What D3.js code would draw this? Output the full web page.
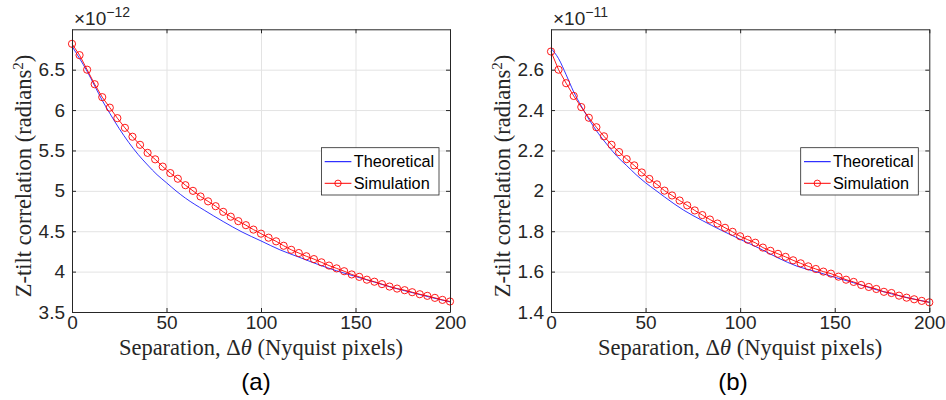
<!DOCTYPE html>
<html>
<head>
<meta charset="utf-8">
<script src="https://cdn.jsdelivr.net/npm/d3@7"></script>
<style>
  body { margin: 0; background: #fff; }
  svg { display: block; }
  .tick text { font-family: "Liberation Sans", Arial, sans-serif; font-size: 19px; fill: #262626; }
</style>
</head>
<body>
<div id="chart"></div>
<script>
// x ticks shared by both panels
const xTicks = [0, 50, 100, 150, 200];
const yTicksA = [3.5, 4, 4.5, 5, 5.5, 6, 6.5];
const yTicksB = [1.4, 1.6, 1.8, 2, 2.2, 2.4, 2.6];

// simulation sample positions (Nyquist pixels)
const simX = [0, 4, 8, 12, 16, 20, 24, 28, 32, 36, 40, 44, 48, 52, 56, 60, 64, 68, 72, 76,
  80, 84, 88, 92, 96, 100, 104, 108, 112, 116, 120, 124, 128, 132, 136, 140, 144, 148, 152,
  156, 160, 164, 168, 172, 176, 180, 184, 188, 192, 196, 200];

// panel (a), x1e-12
const simA = [6.82, 6.68, 6.50, 6.32, 6.16, 6.03, 5.90, 5.78, 5.67, 5.57, 5.47, 5.39, 5.30,
  5.22, 5.15, 5.07, 5.00, 4.93, 4.87, 4.81, 4.74, 4.68, 4.625, 4.575, 4.52, 4.47, 4.42,
  4.375, 4.32, 4.27, 4.23, 4.19, 4.155, 4.115, 4.075, 4.04, 4.005, 3.965, 3.935, 3.90,
  3.875, 3.845, 3.815, 3.79, 3.77, 3.745, 3.72, 3.70, 3.675, 3.65, 3.63];

// panel (b), x1e-11
const simB = [2.69, 2.60, 2.533, 2.47, 2.415, 2.362, 2.315, 2.27, 2.228, 2.192, 2.157,
  2.126, 2.091, 2.059, 2.032, 2.001, 1.977, 1.952, 1.928, 1.903, 1.88, 1.858, 1.838,
  1.817, 1.797, 1.775, 1.758, 1.743, 1.719, 1.703, 1.688, 1.673, 1.656, 1.641, 1.626,
  1.613, 1.60, 1.59, 1.575, 1.56, 1.549, 1.534, 1.524, 1.514, 1.50, 1.494, 1.481, 1.471,
  1.463, 1.455, 1.448];

const theoX = [0, 4, 8, 12, 16, 20, 25, 30, 35, 40, 45, 50, 55, 60, 70, 80, 90, 100, 110,
  120, 130, 140, 150, 160, 170, 180, 190, 200];
const theoA = [6.79, 6.64, 6.48, 6.30, 6.12, 5.96, 5.77, 5.60, 5.45, 5.32, 5.20, 5.10, 5.00,
  4.91, 4.76, 4.62, 4.49, 4.38, 4.27, 4.18, 4.09, 4.01, 3.94, 3.87, 3.80, 3.74, 3.68, 3.625];
const theoB = [2.705, 2.655, 2.575, 2.49, 2.42, 2.355, 2.285, 2.225, 2.17, 2.125, 2.08,
  2.04, 2.005, 1.97, 1.905, 1.853, 1.805, 1.76, 1.716, 1.668, 1.627, 1.600, 1.572, 1.545,
  1.516, 1.490, 1.468, 1.448];

const seriesNames = ['Theoretical', 'Simulation'];

const W = 946, H = 400;
const Top = 29.3, Bottom = 312;
const AxisColor = '#262626';

const svg = d3.select('#chart').append('svg')
  .attr('width', W)
  .attr('height', H);

svg.append('rect').attr('width', W).attr('height', H).attr('fill', '#fff');

function drawPanel(opts) {
  const x = d3.scaleLinear().domain([0, 200]).range([opts.left, opts.right]);
  const y = d3.scaleLinear().domain(opts.yDomain).range([Bottom, Top]);
  const g = svg.append('g');

  // grid
  g.append('g')
    .attr('transform', `translate(0, ${Bottom})`)
    .call(d3.axisBottom(x).tickValues(xTicks.slice(1, -1)).tickSize(-(Bottom - Top)).tickFormat(''))
    .call(s => s.select('.domain').remove())
    .selectAll('line').attr('stroke', '#e3e3e3');
  g.append('g')
    .attr('transform', `translate(${opts.left}, 0)`)
    .call(d3.axisLeft(y).tickValues(opts.yTicks.slice(1)).tickSize(-(opts.right - opts.left)).tickFormat(''))
    .call(s => s.select('.domain').remove())
    .selectAll('line').attr('stroke', '#e3e3e3');

  // theoretical curve
  const line = d3.line().x(d => x(d[0])).y(d => y(d[1]));
  g.append('path')
    .datum(d3.zip(theoX, opts.theo))
    .attr('d', line.curve(d3.curveMonotoneX))
    .attr('fill', 'none')
    .attr('stroke', '#0000ff')
    .attr('stroke-width', 0.8);

  // simulation
  const simPts = d3.zip(simX, opts.sim);
  g.append('path')
    .datum(simPts)
    .attr('d', d3.line().x(d => x(d[0])).y(d => y(d[1])))
    .attr('fill', 'none')
    .attr('stroke', '#ff0000')
    .attr('stroke-width', 0.9);
  g.selectAll('circle.sim')
    .data(simPts)
    .enter().append('circle')
    .attr('class', 'sim')
    .attr('cx', d => x(d[0]))
    .attr('cy', d => y(d[1]))
    .attr('r', 3.6)
    .attr('fill', 'none')
    .attr('stroke', '#ff0000')
    .attr('stroke-width', 0.9);

  // axes (box with inward ticks)
  const styleAxis = s => {
    s.select('.domain').attr('stroke', AxisColor);
    s.selectAll('.tick line').attr('stroke', AxisColor);
  };
  g.append('g')
    .attr('transform', `translate(0, ${Bottom})`)
    .call(d3.axisBottom(x).tickValues(xTicks).tickSizeInner(-4).tickSizeOuter(0).tickPadding(4))
    .call(styleAxis);
  g.append('g')
    .attr('transform', `translate(0, ${Top})`)
    .call(d3.axisTop(x).tickValues(xTicks).tickSizeInner(-4).tickSizeOuter(0).tickFormat(''))
    .call(styleAxis);
  g.append('g')
    .attr('transform', `translate(${opts.left}, 0)`)
    .call(d3.axisLeft(y).tickValues(opts.yTicks).tickSizeInner(-4).tickSizeOuter(0).tickPadding(7)
      .tickFormat(d3.format('~g')))
    .call(styleAxis);
  g.append('g')
    .attr('transform', `translate(${opts.right}, 0)`)
    .call(d3.axisRight(y).tickValues(opts.yTicks).tickSizeInner(-4).tickSizeOuter(0).tickFormat(''))
    .call(styleAxis);
  g.selectAll('.tick text').attr('font-family', null).attr('font-size', null);

  // exponent
  const ex = g.append('text')
    .attr('x', opts.left + 2)
    .attr('y', 25)
    .attr('font-family', '"Liberation Sans", Arial, sans-serif')
    .attr('font-size', 19)
    .attr('fill', AxisColor);
  ex.append('tspan').text('\u00d710');
  ex.append('tspan').attr('dy', -8).attr('font-size', 14).text(opts.exponent);

  // x label
  const cx = (opts.left + opts.right) / 2;
  const xl = g.append('text')
    .attr('x', cx)
    .attr('y', 355)
    .attr('text-anchor', 'middle')
    .attr('font-family', '"Liberation Serif", "Times New Roman", serif')
    .attr('font-size', 22.5)
    .attr('fill', AxisColor);
  xl.append('tspan').text('Separation, \u0394');
  xl.append('tspan').attr('font-style', 'italic').text('\u03b8');
  xl.append('tspan').text(' (Nyquist pixels)');

  // y label
  const yl = g.append('text')
    .attr('transform', `translate(${opts.left - 41}, 176) rotate(-90)`)
    .attr('text-anchor', 'middle')
    .attr('font-family', '"Liberation Serif", "Times New Roman", serif')
    .attr('font-size', 22.5)
    .attr('fill', AxisColor);
  yl.append('tspan').text('Z-tilt correlation (radians');
  yl.append('tspan').attr('dy', -8).attr('font-size', 15).text('2');
  yl.append('tspan').attr('dy', 8).text(')');

  // legend
  const lx = opts.right - 128.6, ly = 147.7;
  const leg = g.append('g').attr('transform', `translate(${lx}, ${ly})`);
  leg.append('rect')
    .attr('width', 117.6).attr('height', 47.3)
    .attr('fill', '#fff').attr('stroke', AxisColor).attr('stroke-width', 0.8);
  const rows = leg.selectAll('g.row').data(seriesNames).enter().append('g')
    .attr('class', 'row')
    .attr('transform', (d, i) => `translate(0, ${14 + i * 21.6})`);
  rows.append('line')
    .attr('x1', 3.3).attr('x2', 30)
    .attr('stroke', (d, i) => i === 0 ? '#0000ff' : '#ff0000')
    .attr('stroke-width', 1);
  rows.filter((d, i) => i === 1).append('circle')
    .attr('cx', 16.6).attr('r', 3.2)
    .attr('fill', 'none').attr('stroke', '#ff0000').attr('stroke-width', 0.9);
  rows.append('text')
    .attr('x', 32.3)
    .attr('dy', '0.35em')
    .attr('font-family', '"Liberation Sans", Arial, sans-serif')
    .attr('font-size', 16.3)
    .attr('fill', '#000')
    .text(d => d);

  // caption
  svg.append('text')
    .attr('x', opts.capX)
    .attr('y', 390)
    .attr('text-anchor', 'middle')
    .attr('font-family', '"Liberation Sans", Arial, sans-serif')
    .attr('font-size', 24)
    .attr('fill', '#000')
    .text(opts.caption);
}

drawPanel({ left: 72, right: 450, yDomain: [3.5, 7.0], yTicks: yTicksA,
  sim: simA, theo: theoA, exponent: '\u221212', caption: '(a)', capX: 256 });
drawPanel({ left: 551, right: 929.3, yDomain: [1.4, 2.8], yTicks: yTicksB,
  sim: simB, theo: theoB, exponent: '\u221211', caption: '(b)', capX: 733 });
</script>
</body>
</html>
